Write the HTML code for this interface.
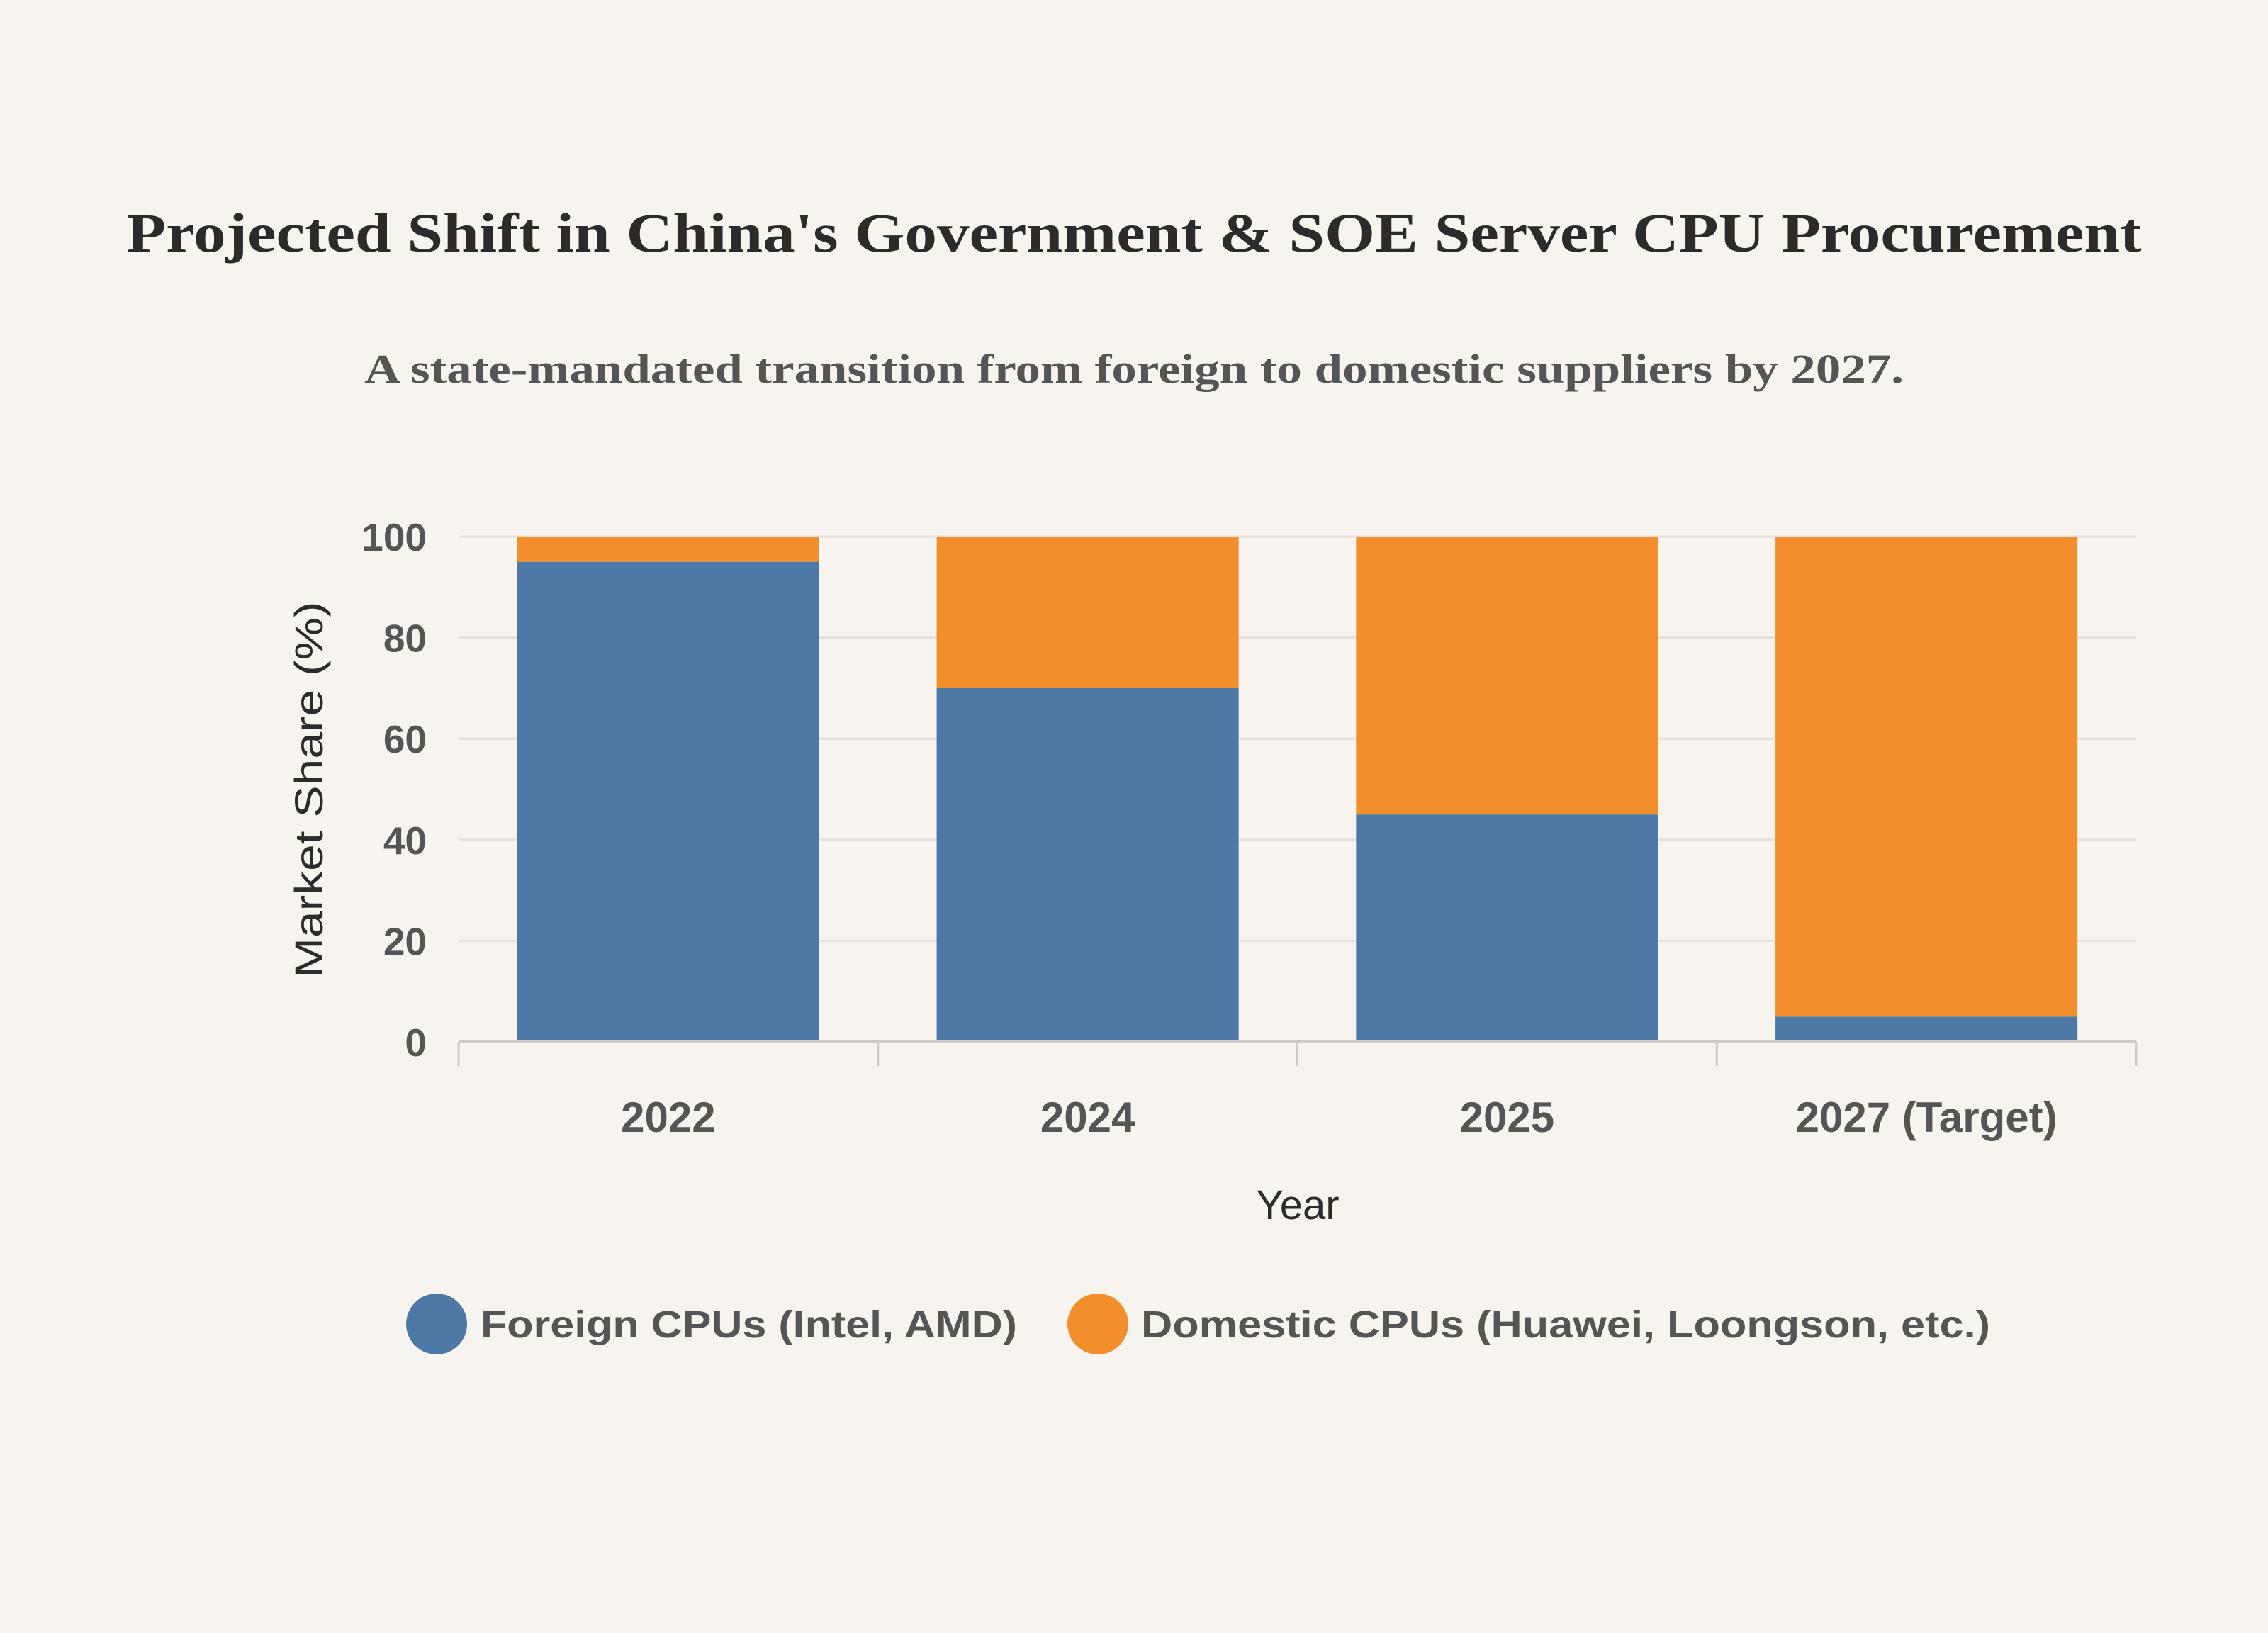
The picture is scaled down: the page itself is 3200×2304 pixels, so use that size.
<!DOCTYPE html>
<html><head><meta charset="utf-8"><style>
html,body{margin:0;padding:0;background:#f7f4ef;}
svg{display:block;}
</style></head><body>
<svg id="chart" width="3200" height="2304" viewBox="0 0 3200 2304" xmlns="http://www.w3.org/2000/svg">
<rect width="3200" height="2304" fill="#f7f4ef"/>
<text x="1600" y="355" text-anchor="middle" font-family="Liberation Serif, serif" font-weight="bold" font-size="78" fill="#2b2b2b" textLength="2843" lengthAdjust="spacingAndGlyphs">Projected Shift in China's Government &amp; SOE Server CPU Procurement</text>
<text x="1600" y="540" text-anchor="middle" font-family="Liberation Serif, serif" font-weight="bold" font-size="58" fill="#555" textLength="2172" lengthAdjust="spacingAndGlyphs">A state-mandated transition from foreign to domestic suppliers by 2027.</text>
<g id="grid"></g>
<g id="bars"></g>
<g id="axes"></g>
<text x="0" y="0" transform="translate(455,1114) rotate(-90)" text-anchor="middle" font-family="Liberation Sans, sans-serif" font-size="56" fill="#2b2b2b" textLength="531" lengthAdjust="spacingAndGlyphs">Market Share (%)</text>
<text x="1831" y="1720" text-anchor="middle" font-family="Liberation Sans, sans-serif" font-size="58" fill="#2b2b2b">Year</text>
<g>
<g>
<circle cx="616" cy="1868" r="43" fill="#4e79a7"/>
<text x="678" y="1887" font-family="Liberation Sans, sans-serif" font-weight="bold" font-size="54" fill="#555" textLength="757" lengthAdjust="spacingAndGlyphs">Foreign CPUs (Intel, AMD)</text>
</g>
<g>
<circle cx="1549" cy="1868" r="43" fill="#f28e2b"/>
<text x="1610" y="1887" font-family="Liberation Sans, sans-serif" font-weight="bold" font-size="54" fill="#555" textLength="1198" lengthAdjust="spacingAndGlyphs">Domestic CPUs (Huawei, Loongson, etc.)</text>
</g>
</g>
</svg>
<script>
const categories = ["2022", "2024", "2025", "2027 (Target)"];
const foreignValues = [95, 70, 45, 5];
const domesticValues = [5, 30, 55, 95];
const yTicks = [0, 20, 40, 60, 80, 100];

const NS = "http://www.w3.org/2000/svg";
const plotL = 647, plotR = 3014, plotT = 757, plotB = 1470;
const yMax = 100;
const band = (plotR - plotL) / categories.length;
const barW = band * 0.72;
function yScale(v){ return plotB - (v / yMax) * (plotB - plotT); }
function xBand(i){ return plotL + i * band; }
function mk(tag, attrs){ const e = document.createElementNS(NS, tag); for (const k in attrs) e.setAttribute(k, attrs[k]); return e; }

const grid = document.getElementById('grid');
const axes = document.getElementById('axes');
const bars = document.getElementById('bars');

yTicks.forEach(t => {
  const y = yScale(t);
  if (t !== 0) {
    const gl = mk('line', {x1: plotL, x2: plotR, y1: y, y2: y, stroke: '#e3dfda', 'stroke-width': 3});
    
    
    grid.appendChild(gl);
  }
  const lb = mk('text', {x: 602, y: y + 20, 'text-anchor': 'end', 'font-family': 'Liberation Sans, sans-serif', 'font-weight': 'bold', 'font-size': 55, fill: '#555'});
  lb.textContent = t;
  
  
  axes.appendChild(lb);
});

categories.forEach((c, i) => {
  const x = xBand(i) + (band - barW) / 2;
  const f = mk('rect', {x: x, y: yScale(foreignValues[i]), width: barW, height: yScale(0) - yScale(foreignValues[i]), fill: '#4e79a7'});
  
  
  bars.appendChild(f);
  const top = foreignValues[i] + domesticValues[i];
  const d = mk('rect', {x: x, y: yScale(top), width: barW, height: yScale(foreignValues[i]) - yScale(top), fill: '#f28e2b'});
  
  
  bars.appendChild(d);
  const lb = mk('text', {x: xBand(i) + band / 2, y: 1597, 'text-anchor': 'middle', 'font-family': 'Liberation Sans, sans-serif', 'font-weight': 'bold', 'font-size': 60, fill: '#555'});
  lb.textContent = c;
  
  
  axes.appendChild(lb);
});

for (let i = 0; i <= categories.length; i++) {
  const x = xBand(i);
  const tk = mk('line', {x1: x, x2: x, y1: plotB, y2: plotB + 34, stroke: '#cfcac4', 'stroke-width': 3});
  
  
  axes.appendChild(tk);
}
const ax = mk('line', {x1: plotL, x2: plotR, y1: plotB, y2: plotB, stroke: '#cfcac4', 'stroke-width': 4});


axes.appendChild(ax);
</script>
</body></html>
